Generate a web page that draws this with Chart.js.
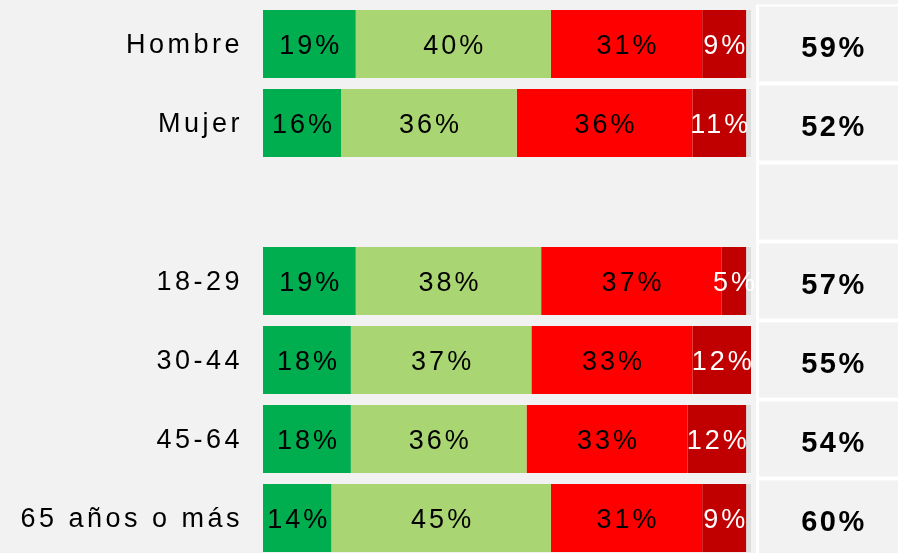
<!DOCTYPE html>
<html>
<head>
<meta charset="utf-8">
<script src="https://cdn.jsdelivr.net/npm/chart.js@4.4.1/dist/chart.umd.min.js"></script>
<style>
  html, body { margin: 0; padding: 0; background: #f2f2f2; overflow: hidden; }
  #wrap { position: relative; width: 898px; height: 558px; }
</style>
</head>
<body>
<div id="wrap"><canvas id="mainChart"></canvas></div>
<script>
// rows (the empty one is the gap between the sex and age groups)
const categories = ["Hombre", "Mujer", "", "18-29", "30-44", "45-64", "65 años o más"];
const muyBuena = [19, 16, null, 19, 18, 18, 14];
const buena = [40, 36, null, 38, 37, 36, 45];
const mala = [31, 36, null, 37, 33, 33, 31];
const muyMala = [9, 11, null, 5, 12, 12, 9];
const noSabe = [1, 1, null, 1, 0.5, 1, 1];
const totals = [59, 52, null, 57, 55, 54, 60];

const FONT = "'Liberation Sans', Arial, sans-serif";

// white grid of boxes on the right with the totals
const totalsColumn = {
  id: "totalsColumn",
  beforeDatasetsDraw(chart) {
    const { ctx, chartArea } = chart;
    const y = chart.scales.y;
    const left = 756;
    const band = y.getPixelForValue(1) - y.getPixelForValue(0);
    ctx.save();
    ctx.fillStyle = "#ffffff";
    ctx.fillRect(left, chartArea.top, chart.width - left, chartArea.bottom - chartArea.top);
    categories.forEach((c, i) => {
      const cy = y.getPixelForValue(i);
      ctx.fillStyle = "#f2f2f2";
      ctx.fillRect(left + 3, cy - band / 2 + 2, chart.width - left - 3, band - 4);
    });
    ctx.restore();
  },
  afterDatasetsDraw(chart) {
    const { ctx } = chart;
    const y = chart.scales.y;
    ctx.save();
    ctx.letterSpacing = "2.5px";
    ctx.font = "bold 29px " + FONT;
    ctx.fillStyle = "#000";
    ctx.textAlign = "center";
    ctx.textBaseline = "alphabetic";
    totals.forEach((t, i) => {
      if (t == null) return;
      ctx.fillText(t + "%", 834, y.getPixelForValue(i) + 12.5);
    });
    ctx.restore();
  }
};

// percent labels inside the bar segments
const barLabels = {
  id: "barLabels",
  afterDatasetsDraw(chart) {
    const { ctx } = chart;
    ctx.save();
    ctx.letterSpacing = "3px";
    ctx.font = "27px " + FONT;
    ctx.textAlign = "center";
    ctx.textBaseline = "alphabetic";
    chart.data.datasets.forEach((ds, di) => {
      if (!ds.labelColor) return;
      chart.getDatasetMeta(di).data.forEach((bar, i) => {
        const v = ds.data[i];
        if (v == null) return;
        const { x, base, y } = bar.getProps(["x", "base", "y"], true);
        ctx.fillStyle = ds.labelColor;
        ctx.fillText(v + "%", (x + base) / 2 + 1.5, y + 10);
      });
    });
    ctx.restore();
  }
};

const spacing = {
  id: "spacing",
  beforeDraw(chart) {
    chart.ctx.letterSpacing = "3.5px";
  }
};

const ctx = document.getElementById("mainChart").getContext("2d");
new Chart(ctx, {
  type: "bar",
  data: {
    labels: categories,
    datasets: [
      { label: "Muy buena", data: muyBuena, backgroundColor: "#00ad4f", labelColor: "#000" },
      { label: "Buena", data: buena, backgroundColor: "#a9d672", labelColor: "#000" },
      { label: "Mala", data: mala, backgroundColor: "#ff0000", labelColor: "#000" },
      { label: "Muy mala", data: muyMala, backgroundColor: "#c00000", labelColor: "#fff" },
      { label: "NS/NC", data: noSabe, backgroundColor: "#dedede" }
    ]
  },
  options: {
    indexAxis: "y",
    responsive: true,
    maintainAspectRatio: false,
    animation: false,
    layout: { padding: { top: 4.5, bottom: 0.5, left: 0, right: 147 } },
    datasets: {
      bar: { barPercentage: 0.86, categoryPercentage: 1, borderWidth: 0 }
    },
    plugins: {
      legend: { display: false },
      tooltip: { enabled: false }
    },
    scales: {
      x: {
        stacked: true,
        min: 0,
        max: 100,
        display: false
      },
      y: {
        stacked: true,
        grid: { display: false, drawTicks: false },
        border: { display: false },
        ticks: {
          color: "#000",
          padding: 20,
          labelOffset: 2,
          font: { family: FONT, size: 27 }
        },
        afterFit(scale) {
          scale.width = 263;
          scale.paddingTop = 0;
          scale.paddingBottom = 0;
        }
      }
    }
  },
  plugins: [spacing, totalsColumn, barLabels]
});
</script>
</body>
</html>
